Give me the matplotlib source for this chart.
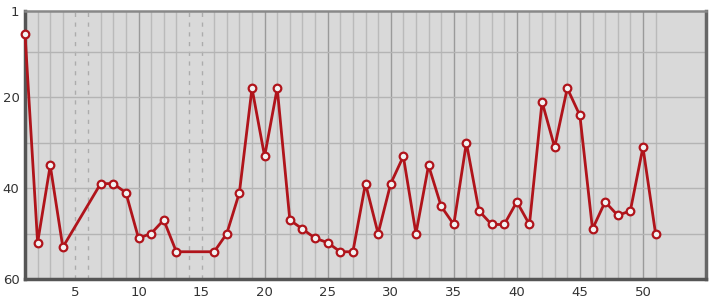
import matplotlib
matplotlib.use("Agg")
import matplotlib.pyplot as plt

x_vals = [1, 2, 3, 4, 7, 8, 9, 10, 11, 12, 13, 16, 17, 18, 19, 20, 21, 22, 23, 24, 25,
          26, 27, 28, 29, 30, 31, 32, 33, 34, 35, 36, 37, 38, 39, 40, 41, 42, 43, 44, 45,
          46, 47, 48, 49, 50, 51]
y_vals = [6, 52, 35, 53, 39, 39, 41, 51, 50, 47, 54, 54, 50, 41, 18, 33, 18, 47, 49, 51, 52,
          54, 54, 39, 50, 39, 33, 50, 35, 44, 48, 30, 45, 48, 48, 43, 48, 21, 31, 18, 24,
          49, 43, 46, 45, 31, 50]
y_ticks = [1, 20, 40, 60]
x_ticks = [5, 10, 15, 20, 25, 30, 35, 40, 45, 50]

fig = plt.figure(figsize=(7.15, 3.0), dpi=100)
ax = fig.add_axes([25/715, 21/300, 681/715, 268/300])
ax.set_facecolor("#d9d9d9")

xmin, xmax = 1, 55
ymin, ymax = 1, 60
ax.set_xlim(xmin, xmax)
ax.set_ylim(ymax, ymin)

missing = [v for v in range(min(x_vals), max(x_vals) + 1) if v not in x_vals]
for v in range(2, max(x_vals) + 1):
    if v in missing:
        ax.axvline(v, color="#acacac", lw=1, ls=(0, (3, 4)), zorder=1)
    elif v % 5 == 0:
        ax.axvline(v, color="#9a9a9a", lw=1, zorder=1)
    else:
        ax.axvline(v, color="#bababa", lw=1, zorder=1)
for v in range(10, 60, 10):
    ax.axhline(v, color="#b4b4b4", lw=1, zorder=1)

ax.plot(x_vals, y_vals, color="#b0141b", lw=2, marker="o", markersize=5.5,
        markerfacecolor="#f2f2f2", markeredgecolor="#b0141b", markeredgewidth=1.6,
        zorder=3, clip_on=False)

ax.set_yticks(y_ticks)
ax.set_xticks(x_ticks)
ax.tick_params(length=0, labelsize=9.5, colors="#333333", pad=5)
ax.tick_params(axis="y", pad=4)

ax.spines["left"].set_color("#555555")
ax.spines["left"].set_linewidth(2.5)
ax.spines["bottom"].set_color("#555555")
ax.spines["bottom"].set_linewidth(2.5)
ax.spines["top"].set_color("#888888")
ax.spines["top"].set_linewidth(1.8)
ax.spines["right"].set_color("#666666")
ax.spines["right"].set_linewidth(2.5)

fig.savefig("out.png", dpi=100)
